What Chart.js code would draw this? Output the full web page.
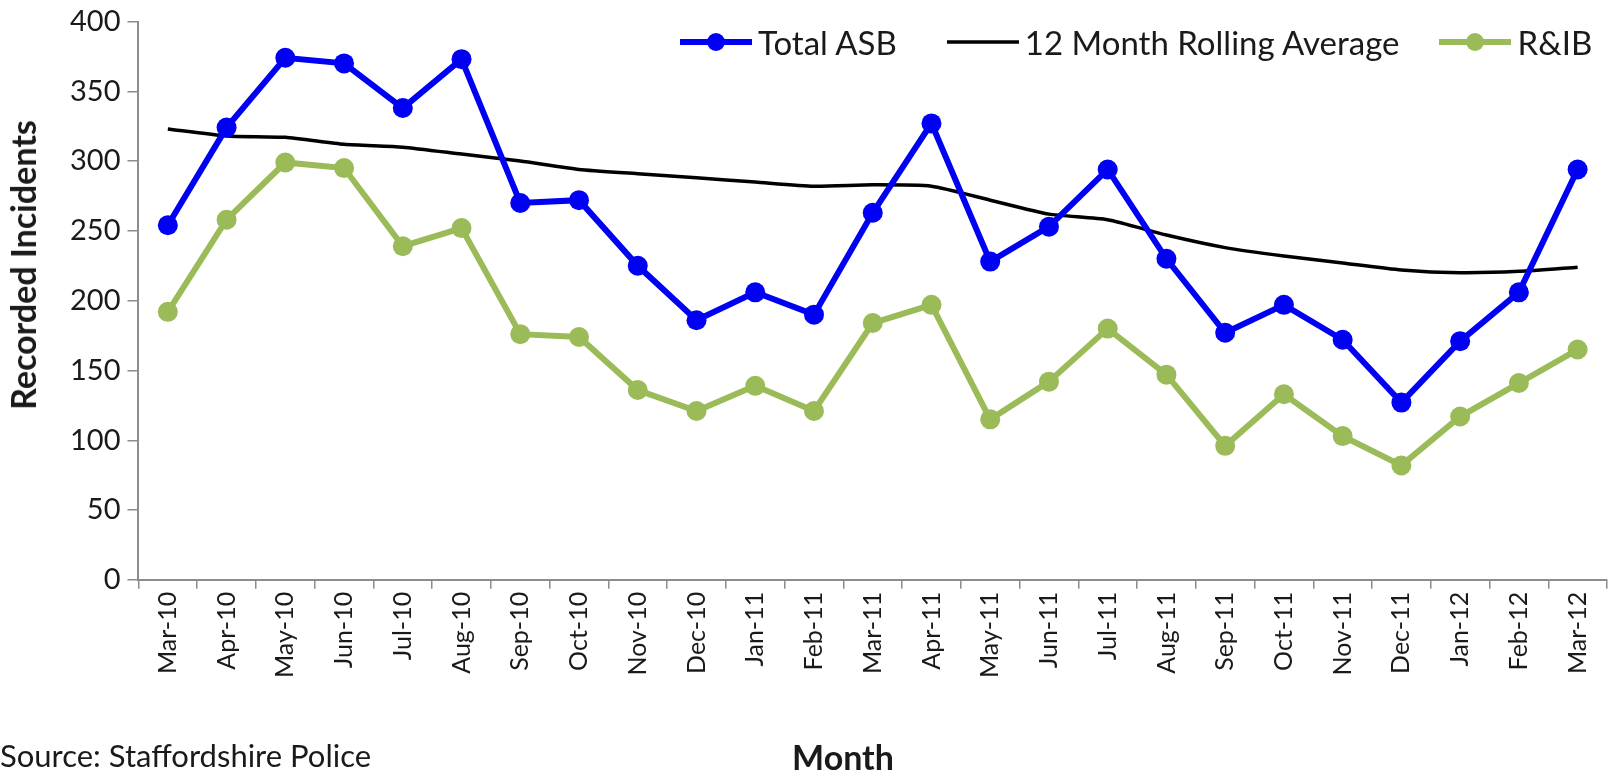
<!DOCTYPE html>
<html>
<head>
<meta charset="utf-8">
<script src="https://cdn.jsdelivr.net/npm/chart.js@4.4.1/dist/chart.umd.min.js"></script>
<style>
  html, body { margin: 0; padding: 0; background: #fff; }
  #wrap { position: relative; width: 1608px; height: 772px; font-family: Lato, "Open Sans", sans-serif; color: #1a1a1a; }
  #source { position: absolute; left: 0; top: 737px; font-size: 31px; line-height: 36px; }
  #legend { position: absolute; left: 680px; top: 23px; display: flex; align-items: center; font-size: 33px; line-height: 38px; }
  #legend .item { display: flex; align-items: center; margin-right: 50px; }
  #legend .item:nth-child(2) { margin-right: 40px; }
  #legend .item:last-child { margin-right: 0; }
  #legend canvas { margin-right: 6px; }
  .axis-title { position: absolute; font-size: 34px; font-weight: bold; white-space: nowrap; line-height: 40px; transform: translate(-50%, -50%); }
  #ytitle { left: 23px; top: 265px; transform: translate(-50%, -50%) rotate(-90deg); }
  #xtitle { left: 843px; top: 757px; }
</style>
</head>
<body>
<div id="wrap">
  <canvas id="chart" width="1608" height="772"></canvas>
  <div id="legend"></div>
  <div id="ytitle" class="axis-title">Recorded Incidents</div>
  <div id="xtitle" class="axis-title">Month</div>
  <div id="source">Source: Staffordshire Police</div>
</div>
<script>
/* Staffordshire ASB — monthly recorded incidents */

const months = [
  'Mar-10','Apr-10','May-10','Jun-10','Jul-10','Aug-10','Sep-10','Oct-10','Nov-10','Dec-10',
  'Jan-11','Feb-11','Mar-11','Apr-11','May-11','Jun-11','Jul-11','Aug-11','Sep-11','Oct-11',
  'Nov-11','Dec-11','Jan-12','Feb-12','Mar-12'
];

const totalAsb = [254, 324, 374, 370, 338, 373, 270, 272, 225, 186,
                  206, 190, 263, 327, 228, 253, 294, 230, 177, 197,
                  172, 127, 171, 206, 294];

const rollingAvg = [323, 318, 317, 312, 310, 305, 300, 294, 291, 288,
                    285, 282, 283, 282, 272, 262, 258, 247, 238, 232,
                    227, 222, 220, 221, 224];

const rib = [192, 258, 299, 295, 239, 252, 176, 174, 136, 121,
             139, 121, 184, 197, 115, 142, 180, 147, 96, 133,
             103, 82, 117, 141, 165];

const yTicks = [0, 50, 100, 150, 200, 250, 300, 350, 400];

const FONT = 'Lato, "Open Sans", sans-serif';
const NARROW = '"Liberation Sans Narrow", Lato, sans-serif';
const BLUE = '#0000f5';
const GREEN = '#9bbb59';
const AXIS = '#8c8c8c';

const chart = new Chart(document.getElementById('chart'), {
  type: 'line',
  data: {
    labels: months,
    datasets: [
      { label: 'Total ASB', data: totalAsb, borderColor: BLUE, backgroundColor: BLUE,
        borderWidth: 6, pointRadius: 10, pointHoverRadius: 10, pointBorderWidth: 0, tension: 0 },
      { label: '12 Month Rolling Average', data: rollingAvg, borderColor: '#000', backgroundColor: '#000',
        borderWidth: 3.5, pointRadius: 0, tension: 0.2 },
      { label: 'R&IB', data: rib, borderColor: GREEN, backgroundColor: GREEN,
        borderWidth: 6, pointRadius: 10, pointHoverRadius: 10, pointBorderWidth: 0, tension: 0 }
    ]
  },
  options: {
    responsive: false,
    animation: false,
    // room for the html axis titles / source line
    layout: { autoPadding: false, padding: { left: 63, right: 1, top: 2, bottom: 91 } },
    plugins: {
      tooltip: { enabled: false },
      legend: { display: false }
    },
    scales: {
      x: {
        offset: true,
        // rotated labels never overflow here, let the axis run to the edge
        afterFit: scale => { scale.paddingRight = 0; },
        grid: { offset: true, drawOnChartArea: false, color: AXIS, tickLength: 9, lineWidth: 1.5 },
        border: { color: AXIS, width: 2 },
        ticks: { color: '#1a1a1a', font: { family: NARROW, size: 25 }, minRotation: 90, maxRotation: 90, autoSkip: false, padding: 3 }
      },
      y: {
        min: 0, max: 400,
        afterBuildTicks: scale => { scale.ticks = yTicks.map(v => ({ value: v })); },
        grid: { drawOnChartArea: false, color: AXIS, tickLength: 11, lineWidth: 1.5 },
        border: { color: AXIS, width: 2 },
        ticks: { color: '#1a1a1a', font: { family: FONT, size: 29, lineHeight: 1 }, padding: 7 }
      }
    }
  }
});

// html legend: short line with a dot in the middle, Excel style
const legendEl = document.getElementById('legend');
chart.data.datasets.forEach(ds => {
  const item = document.createElement('div');
  item.className = 'item';
  const c = document.createElement('canvas');
  c.width = 72; c.height = 24;
  const g = c.getContext('2d');
  g.strokeStyle = ds.borderColor; g.lineWidth = ds.borderWidth;
  g.beginPath(); g.moveTo(0, 12); g.lineTo(72, 12); g.stroke();
  if (ds.pointRadius) {
    g.fillStyle = ds.borderColor;
    g.beginPath(); g.arc(36, 12, 9, 0, Math.PI * 2); g.fill();
  }
  const span = document.createElement('span');
  span.textContent = ds.label;
  item.appendChild(c); item.appendChild(span);
  legendEl.appendChild(item);
});
</script>
</body>
</html>
